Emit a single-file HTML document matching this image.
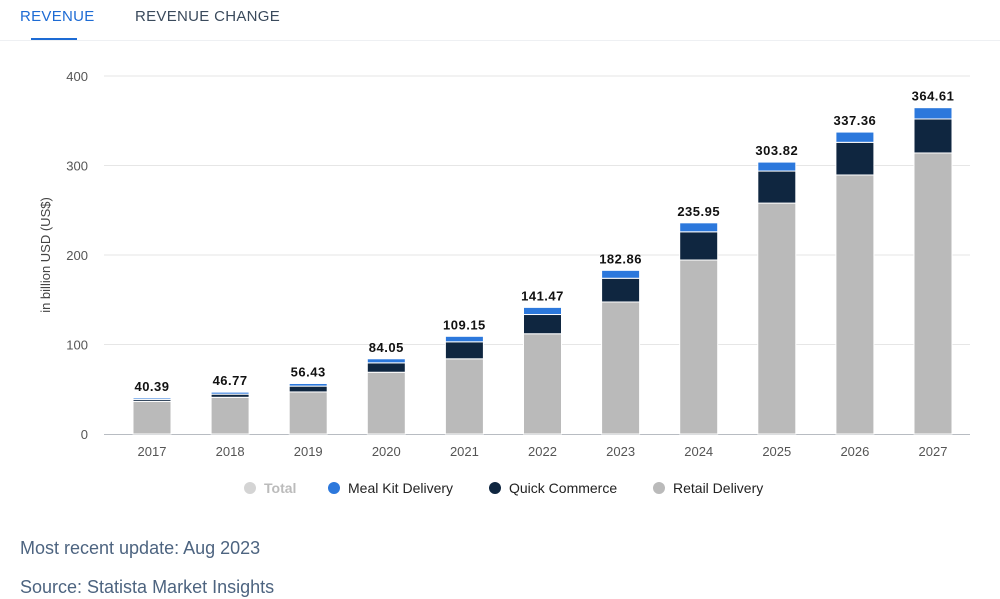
<!DOCTYPE html>
<html><head><meta charset="utf-8"><style>
body{margin:0;background:#fff;font-family:"Liberation Sans",sans-serif;}
#wrap{position:relative;width:1000px;height:599px;overflow:hidden;}
.tab{position:absolute;top:8px;font-size:15px;letter-spacing:0.3px;}
.foot{position:absolute;left:20px;font-size:18px;color:#4d6480;}
</style></head><body>
<div id="wrap">
<div class="tab" style="left:20px;color:#1d6bd4">REVENUE</div>
<div style="position:absolute;left:31px;top:38px;width:46px;height:3px;background:#1d6bd4"></div>
<div class="tab" style="left:135px;color:#3a4a5c">REVENUE CHANGE</div>
<div style="position:absolute;left:0;top:40px;width:1000px;height:1px;background:#eef0f3"></div>
<svg id="chart" width="1000" height="530" style="position:absolute;left:0;top:0"></svg>
<div class="foot" style="top:538px">Most recent update: Aug 2023</div>
<div class="foot" style="top:577px">Source: Statista Market Insights</div>
</div>
<script>
const years=["2017","2018","2019","2020","2021","2022","2023","2024","2025","2026","2027"];
const retail=[36.5,41,47,69,84,112,147.5,194.4,258,289.4,314];
const quick=[2.2,3.5,6.5,10.5,19,21.5,26.5,31.5,35.8,36.5,38];
const mealkit=[1.7,2.27,2.93,4.55,6.15,7.97,8.86,10.05,10.02,11.46,12.61];
const totals=["40.39","46.77","56.43","84.05","109.15","141.47","182.86","235.95","303.82","337.36","364.61"];
const yTicks=[0,100,200,300,400];
const NS="http://www.w3.org/2000/svg";
const svg=document.getElementById('chart');
const y0=434,yTop=76,yMax=400;
const y=v=>y0-(v/yMax)*(y0-yTop);
const x=i=>152+i*78.1;
const bw=38;
function mk(t,a){const e=document.createElementNS(NS,t);for(const k in a)e.setAttribute(k,a[k]);svg.appendChild(e);return e;}
yTicks.forEach(t=>{
  if(t>0){const g=mk('line',{x1:104,x2:970,y1:y(t),y2:y(t),stroke:'#e6e6e6'});
  
  }
  const l=mk('text',{x:88,y:y(t)+5,'text-anchor':'end','font-size':13,fill:'#555'});l.textContent=t;
  
  
});
const ax=mk('line',{x1:104,x2:970,y1:y0+0.5,y2:y0+0.5,stroke:'#b8bcc2'});


const yt=mk('text',{transform:'translate(50,255) rotate(-90)','text-anchor':'middle','font-size':13,fill:'#444'});
yt.textContent='in billion USD (US$)';


years.forEach((yr,i)=>{
  const cx=x(i);let base=0;
  [[retail[i],'#bababa','retail-bar'],[quick[i],'#0f2640','quick-commerce-bar'],[mealkit[i],'#2c78dc','meal-kit-bar']].forEach(s=>{
    const top=base+s[0];
    const r=mk('rect',{x:cx-bw/2,y:y(top),width:bw,height:y(base)-y(top),fill:s[1],stroke:'#fff','stroke-width':1});
    
    
    base=top;
  });
  const v=mk('text',{x:cx,y:y(base)-7,'text-anchor':'middle','font-size':13,fill:'#111','font-weight':'bold','letter-spacing':'0.5'});
  v.textContent=totals[i];
  
  
  const xl=mk('text',{x:cx,y:456,'text-anchor':'middle','font-size':13,fill:'#555'});
  xl.textContent=yr;
  
  
});
const legend=[["Total","#d4d4d4",250,'#bbb'],["Meal Kit Delivery","#2c78dc",334,'#222'],["Quick Commerce","#0f2640",495,'#222'],["Retail Delivery","#bababa",659,'#222']];
legend.forEach(l=>{
  const c=mk('circle',{cx:l[2],cy:488,r:6,fill:l[1]});
  
  
  const t=mk('text',{x:l[2]+14,y:493,'font-size':14,fill:l[3],'font-weight':l[0]=='Total'?'bold':'normal'});
  t.textContent=l[0];
  
  
});
</script>
</body></html>
